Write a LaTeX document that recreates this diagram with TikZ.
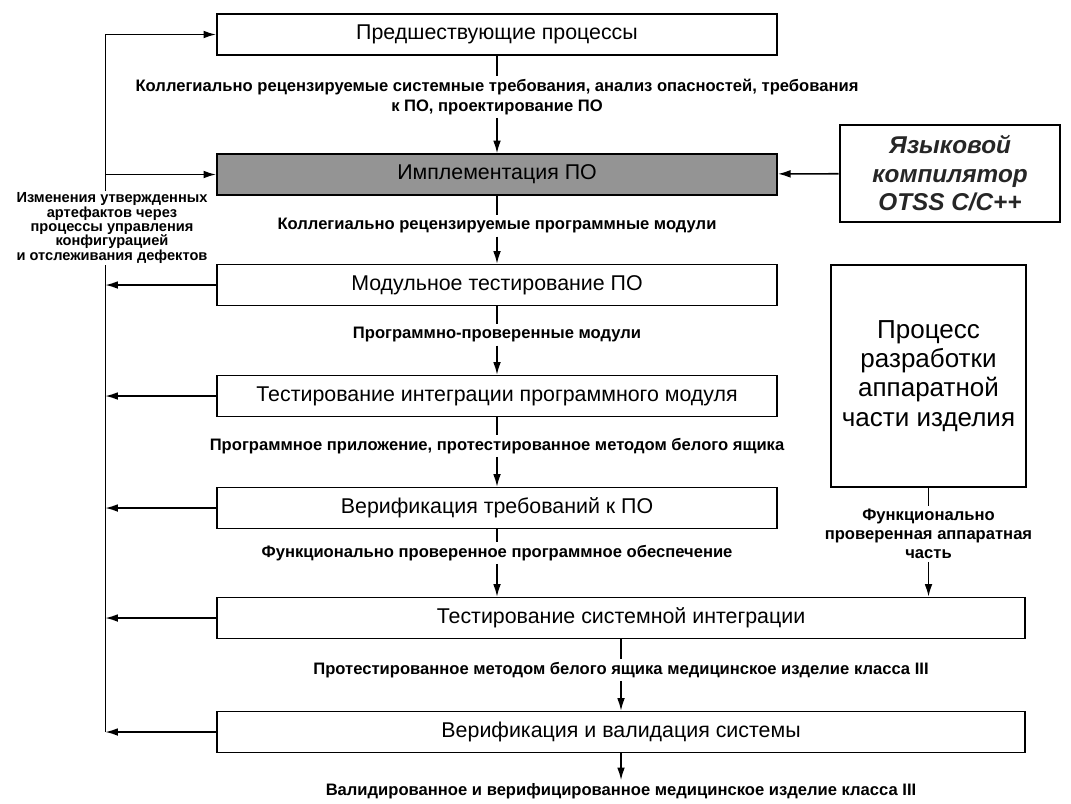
\documentclass[tikz,border=0pt]{standalone}
\usepackage{fontspec}
\setmainfont{Liberation Sans}
\usepackage{tikz}
\usetikzlibrary{arrows.meta, positioning, calc}
\definecolor{implgray}{gray}{0.58}

\begin{document}
\begin{tikzpicture}[x=0.025cm, y=-0.025cm,
    stage/.style={draw, line width=1.1pt, minimum width=14cm, minimum height=1.025cm, inner sep=0pt, font=\fontsize{15.2}{18}\selectfont},
    widestage/.style={stage, minimum width=20.2cm},
    flow/.style={font=\bfseries\fontsize{11.8}{14}\selectfont, align=center, inner sep=2pt},
    arr/.style={-{Latex[length=9pt,width=5.5pt]}, line width=1.1pt},
    ln/.style={line width=1.1pt}]
  \useasboundingbox (0,0) rectangle (1071,803);

  \node[stage] (pred) at (497,34.5) {Предшествующие процессы};
  \node[stage, fill=implgray] (impl) at (497,174.5) {Имплементация ПО};
  \node[stage] (unit) at (497,285) {Модульное тестирование ПО};
  \node[stage] (integ) at (497,396) {Тестирование интеграции программного модуля};
  \node[stage] (reqver) at (497,508) {Верификация требований к ПО};
  \node[widestage] (sysint) at (621,618) {Тестирование системной интеграции};
  \node[widestage] (sysval) at (621,732) {Верификация и валидация системы};

  \node[flow] (f1) at (497,97) {Коллегиально рецензируемые системные требования, анализ опасностей, требования\\к ПО, проектирование ПО};
  \node[flow] (f2) at (497,226) {Коллегиально рецензируемые программные модули};
  \node[flow] (f3) at (497,335) {Программно-проверенные модули};
  \node[flow] (f4) at (497,446) {Программное приложение, протестированное методом белого ящика};
  \node[flow] (f5) at (497,553) {Функционально проверенное программное обеспечение};
  \node[flow] (f6) at (621,670) {Протестированное методом белого ящика медицинское изделие класса III};
  \node[flow] (f7) at (621,791) {Валидированное и верифицированное медицинское изделие класса III};

  \node[draw, line width=1.8pt, minimum width=5.5cm, minimum height=2.425cm, align=center, text=black!85,
        font=\bfseries\itshape\fontsize{17.3}{20.3}\selectfont] (comp) at (950,173.5) {Языковой\\компилятор\\OTSS C/C++};
  \node[draw, line width=1.1pt, minimum width=4.875cm, minimum height=5.55cm, align=center,
        font=\fontsize{18.5}{20.8}\selectfont] (hw) at (928.5,376) {Процесс\\разработки\\аппаратной\\части изделия};
  \node[flow, font=\bfseries\fontsize{11.8}{13.5}\selectfont] (hwout) at (928.5,534) {Функционально\\проверенная аппаратная\\часть};
  \node[flow, font=\bfseries\fontsize{10.4}{10.2}\selectfont, inner sep=1pt] (chg) at (112,228) {Изменения утвержденных\\артефактов через\\процессы управления\\конфигурацией\\и отслеживания дефектов};

  \draw[ln] (pred) -- (f1);
  \draw[arr] (f1) -- (impl);
  \draw[ln] (impl) -- (f2);
  \draw[arr] (f2) -- (unit);
  \draw[ln] (unit) -- (f3);
  \draw[arr] (f3) -- (integ);
  \draw[ln] (integ) -- (f4);
  \draw[arr] (f4) -- (reqver);
  \draw[ln] (reqver) -- (f5);
  \draw[arr] (f5) -- (f5 |- sysint.north);
  \draw[ln] (sysint) -- (f6);
  \draw[arr] (f6) -- (sysval);
  \draw[arr] (sysval) -- (f7);

  \draw[arr] (comp) -- (impl);
  \draw[ln] (hw) -- (hwout);
  \draw[arr] (hwout) -- (hwout |- sysint.north);

  \coordinate (fbtop) at (105.3,34.5);
  \coordinate (fbbot) at (105.3,732);
  \draw[ln] (fbtop |- chg.north) -- (fbtop);
  \draw[arr] (fbtop) -- (pred);
  \draw[arr] (impl.west -| fbtop) -- (impl);
  \draw[ln] (fbbot) -- (fbbot |- chg.south);
  \draw[arr] (unit) -- (unit.west -| fbbot);
  \draw[arr] (integ) -- (integ.west -| fbbot);
  \draw[arr] (reqver) -- (reqver.west -| fbbot);
  \draw[arr] (sysint) -- (sysint.west -| fbbot);
  \draw[arr] (sysval) -- (fbbot);
\end{tikzpicture}
\end{document}
